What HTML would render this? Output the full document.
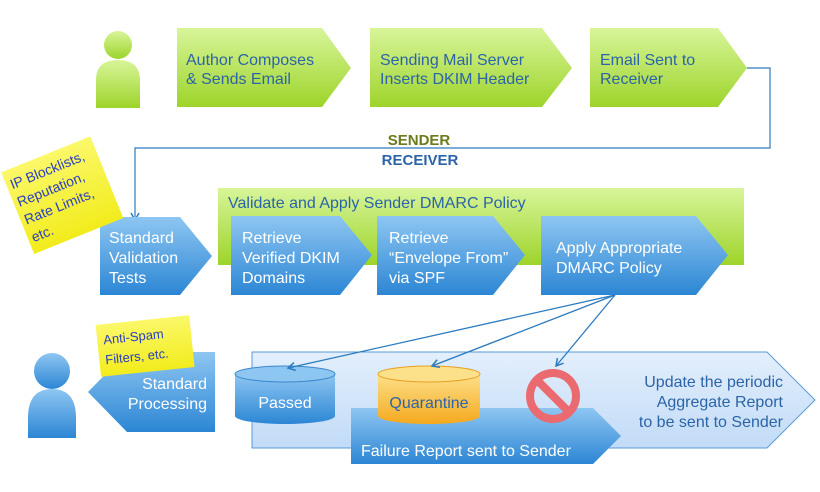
<!DOCTYPE html>
<html><head><meta charset="utf-8"><style>
body{margin:0;background:#fff}
svg{display:block}
text{font-family:"Liberation Sans",sans-serif}
</style></head><body>
<svg width="820" height="492" viewBox="0 0 820 492" xmlns="http://www.w3.org/2000/svg">
<defs>
<linearGradient id="g" x1="0" y1="0" x2="0" y2="1"><stop offset="0" stop-color="#d8f59a"/><stop offset="1" stop-color="#9dd42a"/></linearGradient>
<linearGradient id="b" x1="0" y1="0" x2="0" y2="1"><stop offset="0" stop-color="#8ec6f2"/><stop offset="1" stop-color="#2c86d4"/></linearGradient>
<linearGradient id="lb" x1="0" y1="0" x2="0" y2="1"><stop offset="0" stop-color="#e3effc"/><stop offset="1" stop-color="#c2dbf7"/></linearGradient>
<linearGradient id="o" x1="0" y1="0" x2="0" y2="1"><stop offset="0" stop-color="#fde08a"/><stop offset="1" stop-color="#f5a91e"/></linearGradient>
<linearGradient id="y" x1="0" y1="0" x2="0" y2="1"><stop offset="0" stop-color="#fbf86a"/><stop offset="1" stop-color="#f2ec1c"/></linearGradient>
<marker id="ar" markerWidth="10" markerHeight="10" refX="8" refY="5" orient="auto" markerUnits="userSpaceOnUse"><path d="M1,1 L8,5 L1,9" fill="none" stroke="#2a7bbf" stroke-width="1.5"/></marker>
</defs>
<circle cx="118" cy="45" r="14" fill="url(#g)"/>
<path d="M96,108 L96,80 Q96,60 118,60 Q140,60 140,80 L140,108 Z" fill="url(#g)"/>
<path d="M177,28 L322,28 L351,68 L322,107 L177,107 Z" fill="url(#g)"/>
<path d="M370,28 L542,28 L572,68 L542,107 L370,107 Z" fill="url(#g)"/>
<path d="M590,28 L718,28 L747,68 L718,107 L590,107 Z" fill="url(#g)"/>
<g fill="#2b64a8" font-size="16">
<text x="186" y="65">Author Composes</text><text x="186" y="84">&amp; Sends Email</text>
<text x="380" y="65">Sending Mail Server</text><text x="380" y="84">Inserts DKIM Header</text>
<text x="600" y="65">Email Sent to</text><text x="600" y="84">Receiver</text>
</g>
<path d="M747,68 L770,68 L770,148 L135,148 L135,220" fill="none" stroke="#2a7bbf" stroke-width="1.2" marker-end="url(#ar)"/>
<text x="419" y="145" text-anchor="middle" font-weight="bold" font-size="15" fill="#6b7a1a">SENDER</text>
<text x="420" y="165" text-anchor="middle" font-weight="bold" font-size="15" fill="#2b64a8">RECEIVER</text>
<rect x="218" y="188" width="526" height="77" fill="url(#g)"/>
<text x="228" y="208" font-size="16" fill="#2b64a8">Validate and Apply Sender DMARC Policy</text>
<path d="M100,217 L180,217 L212,256 L180,295 L100,295 Z" fill="url(#b)"/>
<path d="M231,216 L340,216 L372,255 L340,295 L231,295 Z" fill="url(#b)"/>
<path d="M377,216 L493,216 L525,255 L493,295 L377,295 Z" fill="url(#b)"/>
<path d="M541,216 L696,216 L728,255 L696,295 L541,295 Z" fill="url(#b)"/>
<g fill="#fff" font-size="16">
<text x="109" y="243">Standard</text><text x="109" y="263">Validation</text><text x="109" y="283">Tests</text>
<text x="242" y="243">Retrieve</text><text x="242" y="263">Verified DKIM</text><text x="242" y="283">Domains</text>
<text x="389" y="243">Retrieve</text><text x="389" y="263">“Envelope From”</text><text x="389" y="283">via SPF</text>
<text x="556" y="253">Apply Appropriate</text><text x="556" y="273">DMARC Policy</text>
</g>
<g transform="rotate(-22 60 195)">
<rect x="14" y="152" width="96" height="88" fill="url(#y)"/>
<g font-size="14" fill="#2a3fc0" style="font-family:'DejaVu Sans',sans-serif">
<text x="18" y="172">IP Blocklists,</text><text x="18" y="191">Reputation,</text><text x="18" y="210">Rate Limits,</text><text x="18" y="229">etc.</text>
</g></g>
<path d="M252,352 L767,352 L815,400 L767,448 L252,448 Z" fill="url(#lb)" stroke="#5a9ad8" stroke-width="1"/>
<path d="M351,408 L593,408 L621,436 L593,464 L351,464 Z" fill="url(#b)"/>
<text x="361" y="456" font-size="16" fill="#fff">Failure Report sent to Sender</text>
<path d="M235,374 L235,416 A50,8 0 0 0 335,416 L335,374 Z" fill="url(#b)"/>
<ellipse cx="285" cy="374" rx="50" ry="8" fill="#8ec6f2" stroke="#3a87cc"/>
<text x="285" y="408" text-anchor="middle" font-size="16" fill="#fff">Passed</text>
<path d="M378,374 L378,416 A51,8 0 0 0 480,416 L480,374 Z" fill="url(#o)"/>
<ellipse cx="429" cy="374" rx="51" ry="8" fill="#fde08a" stroke="#e8a020"/>
<text x="429" y="408" text-anchor="middle" font-size="16" fill="#2b64a8">Quarantine</text>
<circle cx="553" cy="396" r="23" fill="none" stroke="#ea6a70" stroke-width="8"/>
<line x1="537" y1="380" x2="569" y2="412" stroke="#ea6a70" stroke-width="8"/>
<g fill="#2b64a8" font-size="16" text-anchor="end">
<text x="783" y="387">Update the periodic</text><text x="783" y="407">Aggregate Report</text><text x="783" y="427">to be sent to Sender</text>
</g>
<g stroke="#2a7bbf" stroke-width="1.3" fill="none">
<line x1="615" y1="295" x2="288" y2="368" marker-end="url(#ar)"/>
<line x1="615" y1="295" x2="432" y2="366" marker-end="url(#ar)"/>
<line x1="615" y1="295" x2="556" y2="366" marker-end="url(#ar)"/>
</g>
<circle cx="52" cy="371" r="18" fill="url(#b)"/>
<path d="M28,438 L28,418 Q28,389 52,389 Q76,389 76,418 L76,438 Z" fill="url(#b)"/>
<path d="M215,352 L215,432 L127,432 L88,392 L127,352 Z" fill="url(#b)"/>
<g fill="#fff" font-size="16" text-anchor="end"><text x="207" y="389">Standard</text><text x="207" y="409">Processing</text></g>
<g transform="rotate(-6 145 345)">
<rect x="98" y="320" width="94" height="52" fill="url(#y)"/>
<g font-size="13" fill="#2a3fc0" style="font-family:'DejaVu Sans',sans-serif"><text x="104" y="340">Anti-Spam</text><text x="104" y="360">Filters, etc.</text></g>
</g>
</svg>
</body></html>
